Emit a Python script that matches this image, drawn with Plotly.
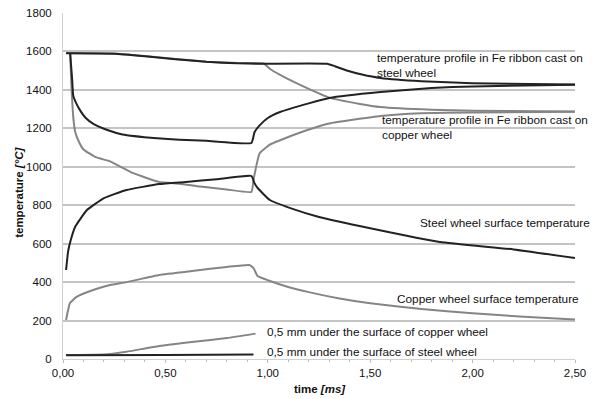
import plotly.graph_objects as go

# time axis in ms
steel_ribbon_t = [0.015, 0.25, 0.4, 0.55, 0.7, 0.85, 0.95, 1.29, 1.33, 1.39, 1.46, 1.55, 1.75, 2.0, 2.5]
steel_ribbon_T = [1590, 1588, 1575, 1560, 1546, 1538, 1536, 1536, 1522, 1500, 1480, 1462, 1445, 1435, 1428]

steel_ribbon2_t = [0.035, 0.04, 0.045, 0.05, 0.065, 0.08, 0.11, 0.15, 0.22, 0.29, 0.46, 0.57, 0.7, 0.92, 0.935, 0.96, 1.0, 1.06, 1.2, 1.3, 1.55, 1.8, 2.0, 2.5]
steel_ribbon2_T = [1590, 1520, 1450, 1370, 1330, 1300, 1255, 1222, 1190, 1168, 1148, 1140, 1135, 1124, 1180, 1215, 1254, 1285, 1330, 1358, 1389, 1410, 1418, 1427]

cu_ribbon_t = [0.015, 0.25, 0.4, 0.55, 0.7, 0.85, 0.98, 1.01, 1.06, 1.15, 1.3, 1.45, 1.55, 1.8, 2.0, 2.5]
cu_ribbon_T = [1592, 1589, 1576, 1561, 1547, 1540, 1537, 1510, 1478, 1430, 1360, 1327, 1311, 1297, 1292, 1287]

cu_ribbon2_t = [0.035, 0.04, 0.05, 0.06, 0.08, 0.1, 0.16, 0.23, 0.34, 0.47, 0.57, 0.67, 0.8, 0.92, 0.93, 0.94, 0.96, 1.01, 1.06, 1.19, 1.3, 1.55, 1.75, 2.0, 2.5]
cu_ribbon2_T = [1592, 1450, 1260, 1180, 1125, 1090, 1050, 1028, 968, 921, 912, 897, 882, 869, 931, 985, 1070, 1115, 1138, 1190, 1225, 1264, 1278, 1283, 1286]

steel_surf_t = [0.015, 0.025, 0.034, 0.059, 0.117, 0.2, 0.31, 0.47, 0.6, 0.75, 0.92, 0.935, 0.95, 1.01, 1.11, 1.25, 1.5, 1.84, 2.2, 2.5]
steel_surf_T = [463, 560, 604, 687, 775, 837, 879, 910, 921, 935, 952, 915, 890, 827, 785, 739, 680, 609, 570, 525]

cu_surf_t = [0.015, 0.025, 0.034, 0.066, 0.147, 0.23, 0.31, 0.47, 0.64, 0.8, 0.91, 0.93, 0.95, 1.0, 1.1, 1.2, 1.35, 1.5, 1.75, 2.0, 2.25, 2.5]
cu_surf_T = [203, 255, 291, 323, 359, 385, 400, 437, 459, 479, 489, 473, 432, 410, 375, 348, 315, 290, 260, 238, 220, 205]

cu_sub_t = [0.015, 0.15, 0.23, 0.31, 0.47, 0.64, 0.8, 0.94]
cu_sub_T = [21, 22, 26, 38, 68, 90, 109, 132]

steel_sub_t = [0.015, 0.5, 0.93]
steel_sub_T = [19, 21, 24]

x_tick_vals = [0, 0.5, 1.0, 1.5, 2.0, 2.5]
x_tick_text = ["0,00", "0,50", "1,00", "1,50", "2,00", "2,50"]
y_tick_vals = [0, 200, 400, 600, 800, 1000, 1200, 1400, 1600, 1800]

labels = [
    ("temperature profile in Fe ribbon cast on<br>steel wheel", 1.53, 1527),
    ("temperature profile in Fe ribbon cast on<br>copper wheel", 1.555, 1202),
    ("Steel wheel surface temperature", 1.74, 708),
    ("Copper wheel surface temperature", 1.628, 312),
    ("0,5 mm under the surface of copper wheel", 0.993, 140),
    ("0,5 mm under the surface of steel wheel", 0.993, 36),
]

DARK = "#222222"
GRAY = "#858585"
FONT = "Liberation Sans, Arial"

fig = go.Figure()
series = [
    (cu_ribbon_t, cu_ribbon_T, GRAY),
    (cu_ribbon2_t, cu_ribbon2_T, GRAY),
    (cu_surf_t, cu_surf_T, GRAY),
    (cu_sub_t, cu_sub_T, GRAY),
    (steel_ribbon_t, steel_ribbon_T, DARK),
    (steel_ribbon2_t, steel_ribbon2_T, DARK),
    (steel_surf_t, steel_surf_T, DARK),
    (steel_sub_t, steel_sub_T, DARK),
]
for t, T, c in series:
    fig.add_trace(go.Scatter(x=t, y=T, mode="lines",
                             line=dict(color=c, width=2, shape="spline", smoothing=0.4),
                             showlegend=False, hoverinfo="skip"))

for txt, x, y in labels:
    fig.add_annotation(x=x, y=y, text=txt, showarrow=False, xanchor="left",
                       yanchor="middle", align="left", borderpad=0,
                       font=dict(family=FONT, size=11.8, color="#111111"))

# axis titles
fig.add_annotation(xref="paper", yref="paper", x=0.502, y=-0.087, text="<b>time <i>[ms]</i></b>",
                   showarrow=False, xanchor="center", yanchor="middle",
                   font=dict(family=FONT, size=11.5, color="#111111"))
fig.add_annotation(xref="paper", yref="paper", x=-0.086, y=0.483, text="<b>temperature <i>[°C]</i></b>",
                   showarrow=False, xanchor="center", yanchor="middle", textangle=-90,
                   font=dict(family=FONT, size=11.5, color="#111111"))

fig.update_layout(
    width=601, height=399,
    margin=dict(l=63, r=26, t=13, b=40),
    paper_bgcolor="white", plot_bgcolor="white",
    font=dict(family=FONT, size=11.5, color="#111111"),
)
fig.update_xaxes(range=[0, 2.5], tickvals=x_tick_vals, ticktext=x_tick_text, automargin=False,
                 showgrid=False, zeroline=False, showline=True, linecolor="#d0d0d0",
                 ticks="outside", ticklen=3, tickcolor="#bbbbbb",
                 minor=dict(dtick=0.1, ticks="outside", ticklen=2, tickcolor="#bbbbbb"),
                 tickfont=dict(size=11.5))
fig.update_yaxes(range=[0, 1800], tickvals=y_tick_vals, showgrid=True, automargin=False,
                 gridcolor="#c4c4c4", gridwidth=1.5, zeroline=False,
                 showline=True, linecolor="#d0d0d0", ticks="", tickfont=dict(size=11.5),
                 ticklabelstandoff=8)

fig.write_html("out.html")
